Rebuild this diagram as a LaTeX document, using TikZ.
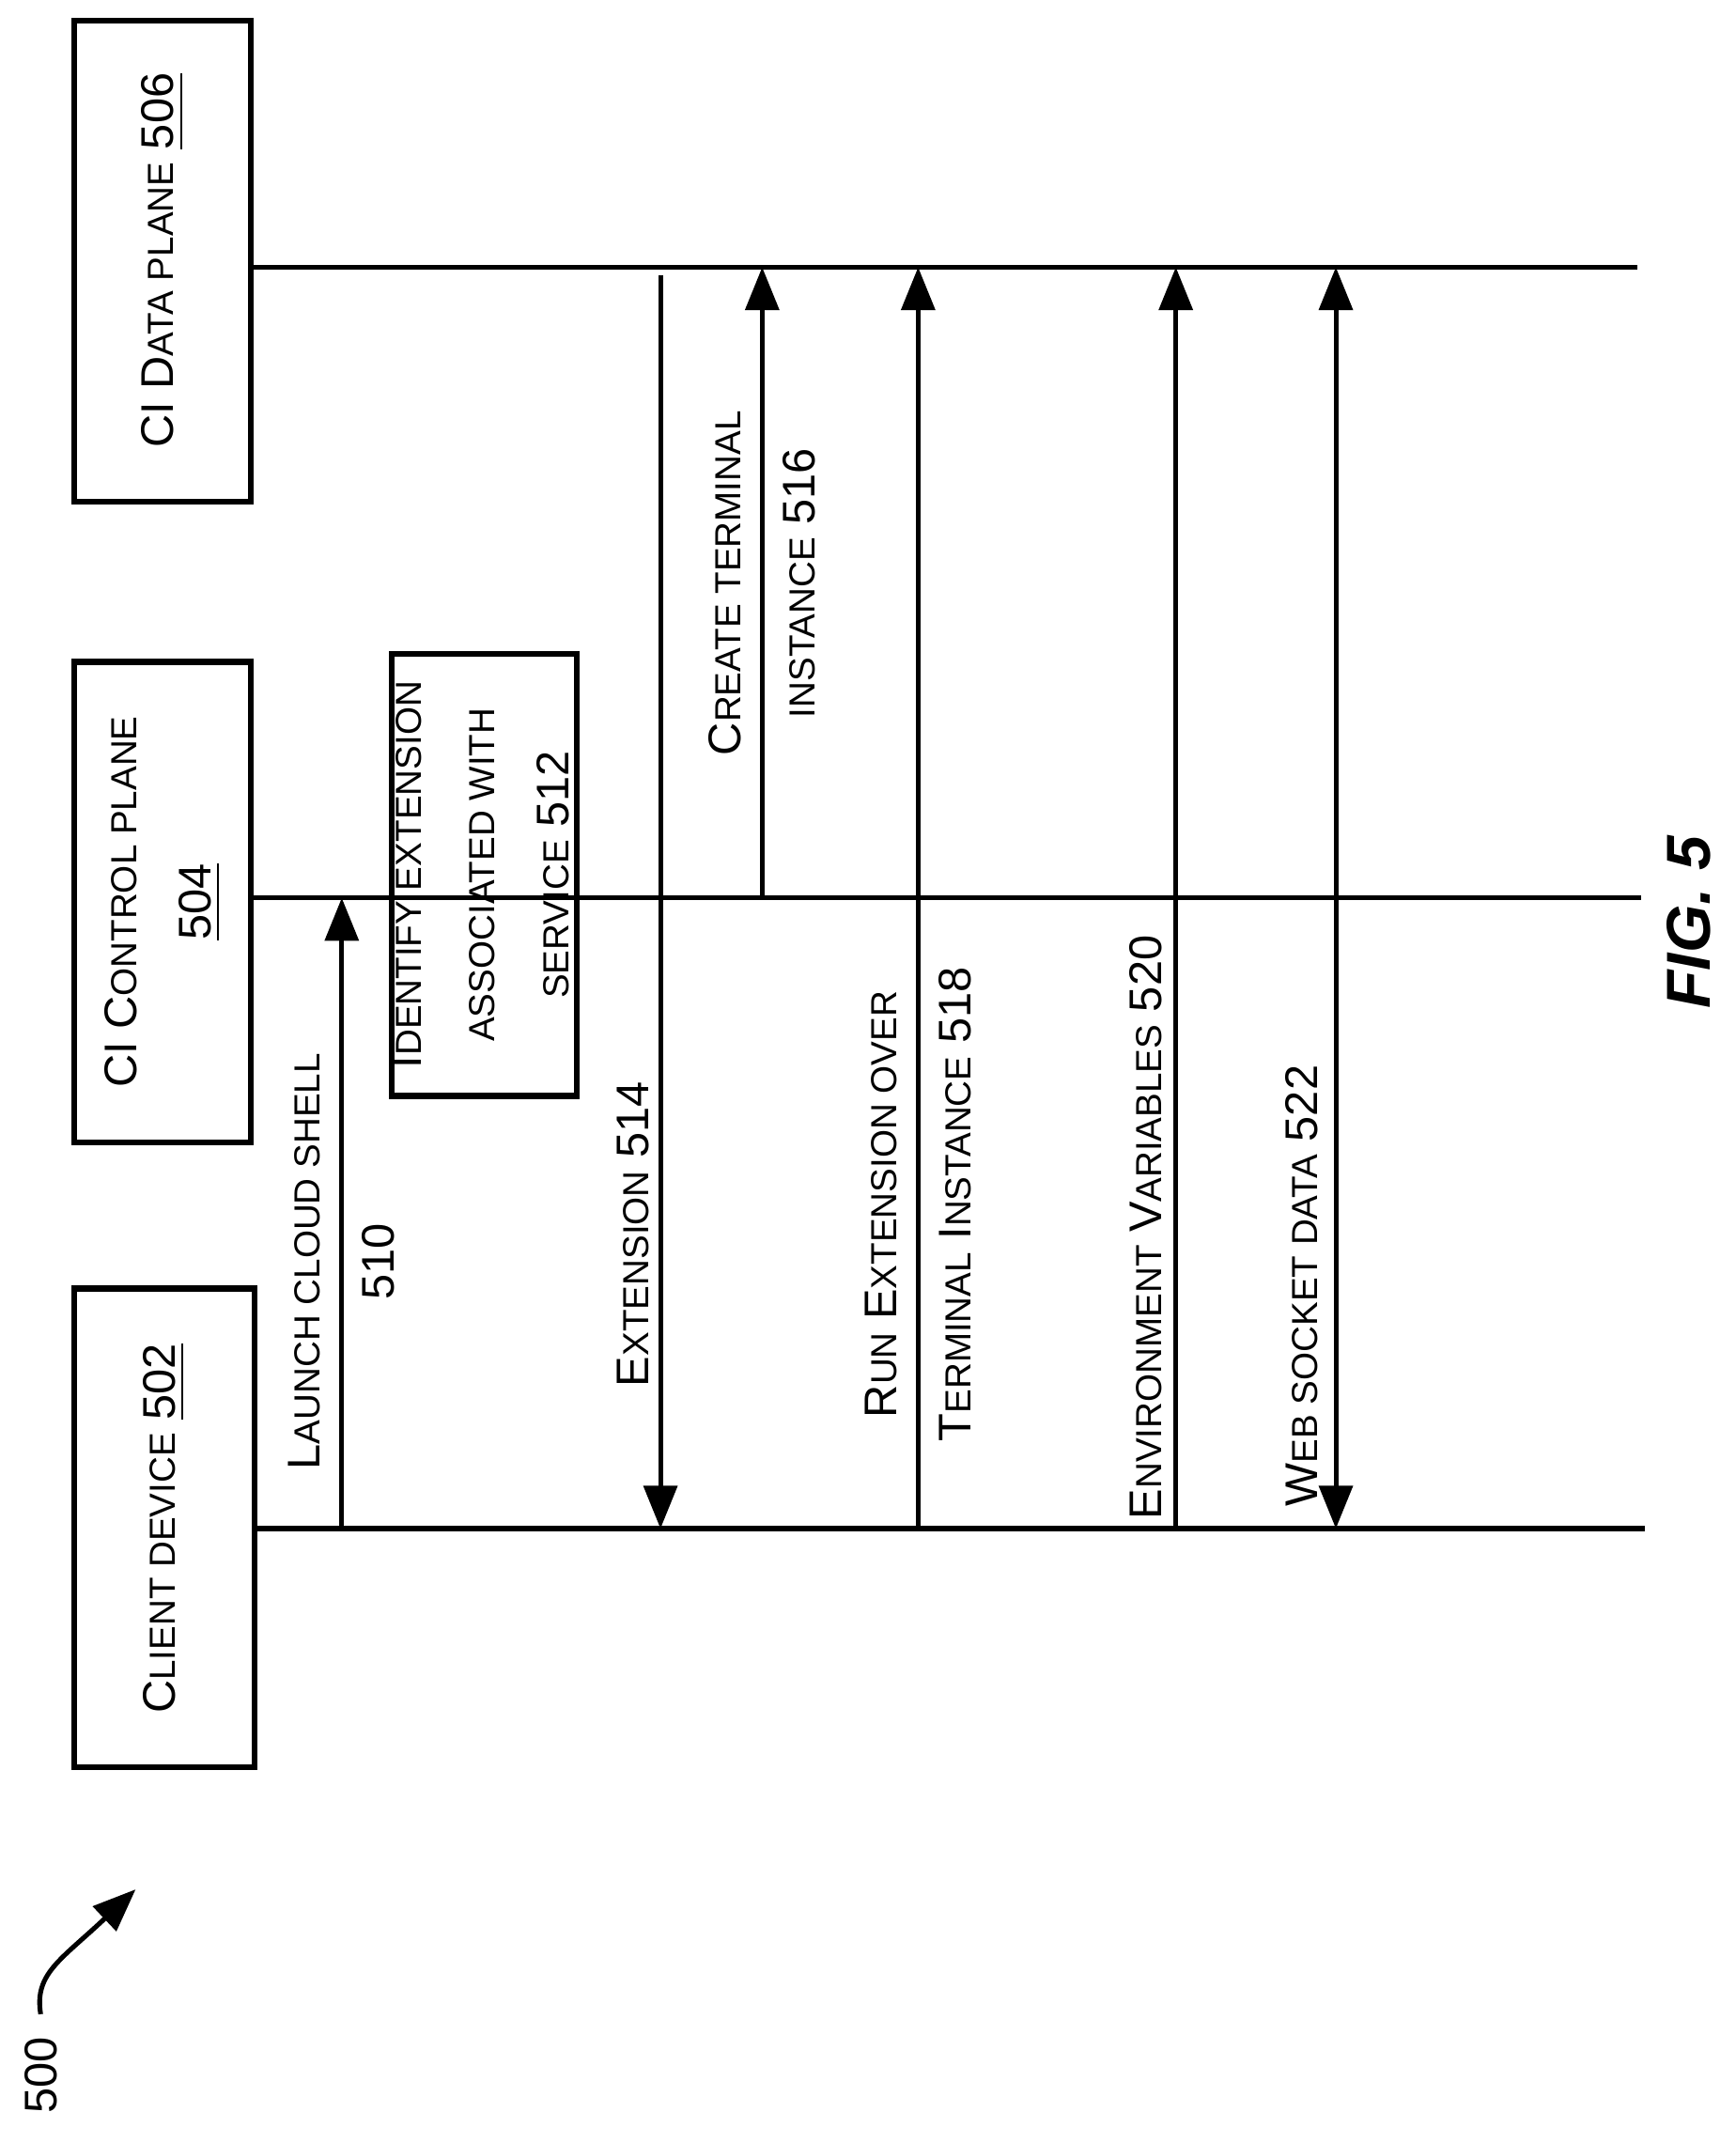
\documentclass[tikz,border=0pt]{standalone}
\usepackage{fontspec}
\setmainfont{Liberation Sans}
\usetikzlibrary{arrows.meta}
\newcommand\sm[1]{{\fontsize{7.6}{9}\selectfont #1}}
\begin{document}
\begin{tikzpicture}[x=0.01cm,y=-0.01cm,
  box/.style={draw,line width=1.2pt,inner sep=0},
  ln/.style={line width=1pt},
  arr/.style={line width=1pt,-{Triangle[length=9pt,width=7pt]}},
  lab/.style={rotate=90,font=\fontsize{9.6}{11.5}\selectfont,align=center,inner sep=0}]
\useasboundingbox (0,0) rectangle (1280,1580);
% boxes
\draw[box] (55,950) rectangle (188,1303);
\node[lab] (cd) at (121,1127) {C\sm{LIENT DEVICE} \underline{502}};
\draw[box] (55,488) rectangle (185,842);
\node[lab] (cp) at (120,665) {CI C\sm{ONTROL PLANE}\\[4pt]\underline{504}};
\draw[box] (55,15) rectangle (185,370);
\node[lab] (dp) at (120,192) {CI D\sm{ATA PLANE} \underline{506}};
\draw[box] (289,482) rectangle (425,808);
\node[lab] (id) at (357,645) {I\sm{DENTIFY EXTENSION}\\[4pt]\sm{ASSOCIATED WITH}\\[4pt]\sm{SERVICE} \underline{512}};
% lifelines
\coordinate (c0) at (188,1127); \coordinate (c1) at (1213,1127);
\coordinate (k0) at (185,662); \coordinate (k1) at (1210,662);
\coordinate (d0) at (185,197); \coordinate (d1) at (1207,197);
\draw[ln] (c0)--(c1); \draw[ln] (k0)--(k1); \draw[ln] (d0)--(d1);
% messages
\coordinate (a1) at (252,1127); \coordinate (b1) at (252,662);
\draw[arr] (a1)--(b1);
\node[lab] (l510) at (252,930) {L\sm{AUNCH CLOUD SHELL}\\[4pt]510};
\coordinate (a2) at (487,203); \coordinate (b2) at (487,1127);
\draw[arr] (a2)--(b2);
\node[lab] (l514) at (467,910) {E\sm{XTENSION} 514};
\coordinate (a3) at (562,662); \coordinate (b3) at (562,197);
\draw[arr] (a3)--(b3);
\node[lab] (l516) at (562,430) {C\sm{REATE TERMINAL}\\[4pt]\sm{INSTANCE} 516};
\coordinate (a4) at (677,1127); \coordinate (b4) at (677,197);
\draw[arr] (a4)--(b4);
\node[lab] (l518) at (677,888) {R\sm{UN} E\sm{XTENSION OVER}\\[4pt]T\sm{ERMINAL} I\sm{NSTANCE} 518};
\coordinate (a5) at (867,1127); \coordinate (b5) at (867,197);
\draw[arr] (a5)--(b5);
\node[lab] (l520) at (845,905) {E\sm{NVIRONMENT} V\sm{ARIABLES} 520};
\coordinate (a6) at (985,1127); \coordinate (b6) at (985,197);
\draw[line width=1pt,{Triangle[length=9pt,width=7pt]}-{Triangle[length=9pt,width=7pt]}] (a6)--(b6);
\node[lab] (l522) at (960,948) {W\sm{EB SOCKET DATA} 522};
% fig label
\node[rotate=90,font=\bfseries\itshape\fontsize{13}{15}\selectfont] (fig) at (1245,680) {FIG. 5};
\node[rotate=90,font=\fontsize{9.6}{11}\selectfont] (n500) at (30,1530) {500};
\coordinate (r0) at (30,1485);
\coordinate (r1) at (100,1393);
\draw[line width=1pt,-{Triangle[length=9pt,width=7pt]}] (r0) .. controls (25,1455) and (45,1445) .. (r1);
\end{tikzpicture}
\end{document}
